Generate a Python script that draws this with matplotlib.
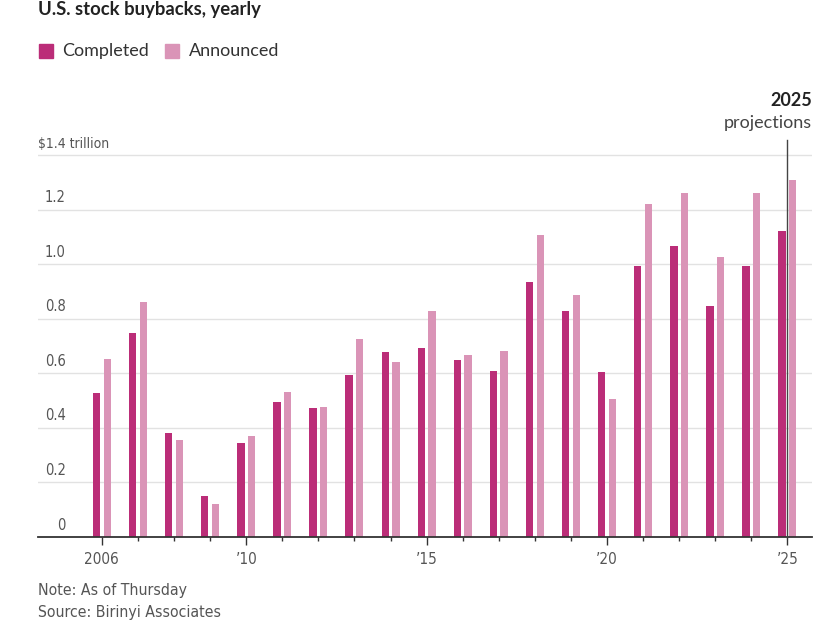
import numpy as np
import matplotlib
matplotlib.use('Agg')
import matplotlib.pyplot as plt
from matplotlib.ticker import FixedLocator

# data (trillions of dollars)
years = list(range(2006, 2026))
completed = [0.526, 0.746, 0.379, 0.149, 0.342, 0.494, 0.471, 0.594, 0.677, 0.694,
             0.649, 0.608, 0.934, 0.829, 0.604, 0.993, 1.066, 0.846, 0.993, 1.122]
announced = [0.653, 0.860, 0.355, 0.121, 0.369, 0.531, 0.476, 0.727, 0.641, 0.828,
             0.666, 0.681, 1.107, 0.888, 0.506, 1.222, 1.259, 1.025, 1.259, 1.309]
y_ticks = [0, 0.2, 0.4, 0.6, 0.8, 1.0, 1.2, 1.4]
y_labels = ['0', '0.2', '0.4', '0.6', '0.8', '1.0', '1.2', '$1.4 trillion']
x_label_years = [2006, 2010, 2015, 2020, 2025]
x_labels = ['2006', "\u201910", "\u201915", "\u201920", "\u201925"]

C_DONE = '#bb2d78'
C_ANN = '#da94b7'
SANS = ['Lato', 'DejaVu Sans']
NARROW = ['DejaVu Sans']  # used with fontstretch='condensed'

fig = plt.figure(figsize=(8.35, 6.32), dpi=100)
ax = fig.add_axes([38 / 835, 95.3 / 632, 774 / 835, 398 / 632])

x = np.array(years)
w = 0.203
off = 0.147
ax.bar(x - off, completed, w, color=C_DONE, zorder=3)
ax.bar(x + off, announced, w, color=C_ANN, zorder=3)

ax.set_xlim(2004.23, 2025.68)
ax.set_ylim(0, 1.46)

# gridlines + labels sitting just above them
for v, lab in zip(y_ticks, y_labels):
    if v > 0:
        ax.axhline(v, color='#e2e2e2', lw=1, zorder=1)
    if v == 1.4:
        ax.annotate(lab, xy=(2004.23, v), xytext=(0, 3), textcoords='offset points',
                    ha='left', va='bottom', fontsize=10, color='#555555',
                    family=NARROW, fontstretch='condensed')
    else:
        ax.annotate(lab, xy=(2004.23, v), xytext=(20, 3), textcoords='offset points',
                    ha='right', va='bottom', fontsize=10.5, color='#555555',
                    family=NARROW, fontstretch='condensed')

ax.set_yticks([])
for s in ['top', 'right', 'left']:
    ax.spines[s].set_visible(False)
ax.spines['bottom'].set_color('#333333')
ax.spines['bottom'].set_linewidth(1.3)
ax.spines['bottom'].set_zorder(4)

ax.xaxis.set_major_locator(FixedLocator(x_label_years))
ax.set_xticklabels(x_labels, family=NARROW, fontsize=11, color='#555555',
                   fontstretch='condensed')
ax.xaxis.set_minor_locator(FixedLocator(years))
ax.tick_params(axis='x', which='major', length=6, width=1, color='#333333', pad=5)
ax.tick_params(axis='x', which='minor', length=3, width=1, color='#333333')

# 2025 projection marker
ax.plot([2025, 2025], [0, 1.455], color='#444444', lw=1, zorder=5, clip_on=False)
fig.text(812 / 835, 1 - 101 / 632, '2025', ha='right', va='center', fontsize=13,
         fontweight='bold', color='#222222', family=SANS)
fig.text(812 / 835, 1 - 123 / 632, 'projections', ha='right', va='center', fontsize=13,
         color='#444444', family=SANS)

# title and legend
fig.text(38 / 835, 1 - 10 / 632, 'U.S. stock buybacks, yearly', ha='left', va='center',
         fontsize=13.3, fontweight='bold', color='#222222', family=SANS)
fig.patches.append(plt.Rectangle((39 / 835, 1 - 58 / 632), 14 / 835, 14 / 632,
                                 transform=fig.transFigure, color=C_DONE))
fig.text(62 / 835, 1 - 51 / 632, 'Completed', ha='left', va='center', fontsize=13,
         color='#333333', family=SANS)
fig.patches.append(plt.Rectangle((165 / 835, 1 - 58 / 632), 14 / 835, 14 / 632,
                                 transform=fig.transFigure, color=C_ANN))
fig.text(189 / 835, 1 - 51 / 632, 'Announced', ha='left', va='center', fontsize=13,
         color='#333333', family=SANS)

# footnotes
fig.text(38 / 835, 1 - 590 / 632, 'Note: As of Thursday', ha='left', va='center',
         fontsize=11.3, color='#555555', family=NARROW, fontstretch='condensed')
fig.text(38 / 835, 1 - 612 / 632, 'Source: Birinyi Associates', ha='left', va='center',
         fontsize=11.3, color='#555555', family=NARROW, fontstretch='condensed')

fig.savefig('out.png', dpi=100)
